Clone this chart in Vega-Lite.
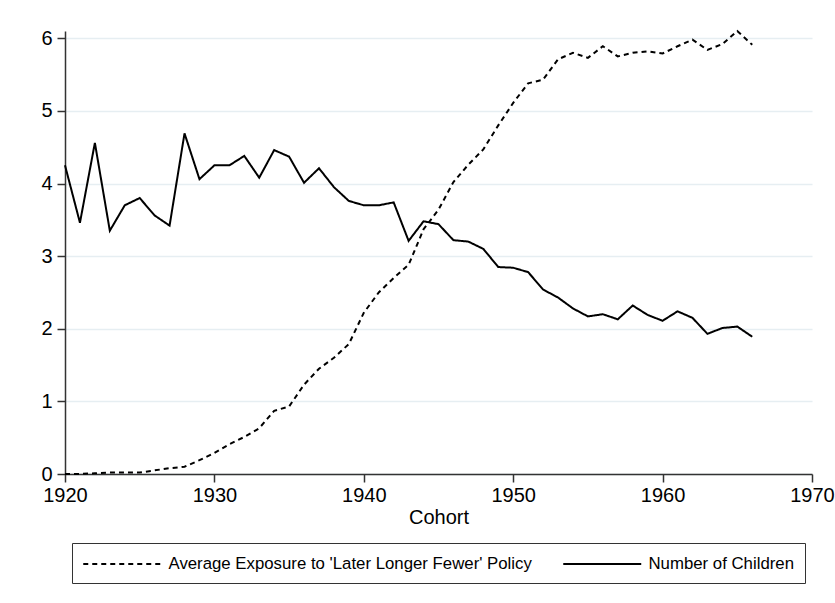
{
  "$schema": "https://vega.github.io/schema/vega-lite/v6.json",
  "autosize": {"type": "none"},
  "width": 747,
  "height": 443,
  "padding": {"left": 65, "top": 31, "right": 23, "bottom": 129},
  "background": "white",
  "config": {
    "view": {"stroke": null},
    "font": "Liberation Sans"
  },
  "data": {
    "values": [
      {"cohort": 1920, "series": "Number of Children", "value": 4.25},
      {"cohort": 1921, "series": "Number of Children", "value": 3.46},
      {"cohort": 1922, "series": "Number of Children", "value": 4.56},
      {"cohort": 1923, "series": "Number of Children", "value": 3.35},
      {"cohort": 1924, "series": "Number of Children", "value": 3.70},
      {"cohort": 1925, "series": "Number of Children", "value": 3.80},
      {"cohort": 1926, "series": "Number of Children", "value": 3.56},
      {"cohort": 1927, "series": "Number of Children", "value": 3.42},
      {"cohort": 1928, "series": "Number of Children", "value": 4.69},
      {"cohort": 1929, "series": "Number of Children", "value": 4.06},
      {"cohort": 1930, "series": "Number of Children", "value": 4.25},
      {"cohort": 1931, "series": "Number of Children", "value": 4.25},
      {"cohort": 1932, "series": "Number of Children", "value": 4.38},
      {"cohort": 1933, "series": "Number of Children", "value": 4.08},
      {"cohort": 1934, "series": "Number of Children", "value": 4.46},
      {"cohort": 1935, "series": "Number of Children", "value": 4.37},
      {"cohort": 1936, "series": "Number of Children", "value": 4.01},
      {"cohort": 1937, "series": "Number of Children", "value": 4.21},
      {"cohort": 1938, "series": "Number of Children", "value": 3.95},
      {"cohort": 1939, "series": "Number of Children", "value": 3.76},
      {"cohort": 1940, "series": "Number of Children", "value": 3.70},
      {"cohort": 1941, "series": "Number of Children", "value": 3.70},
      {"cohort": 1942, "series": "Number of Children", "value": 3.74},
      {"cohort": 1943, "series": "Number of Children", "value": 3.21},
      {"cohort": 1944, "series": "Number of Children", "value": 3.48},
      {"cohort": 1945, "series": "Number of Children", "value": 3.44},
      {"cohort": 1946, "series": "Number of Children", "value": 3.22},
      {"cohort": 1947, "series": "Number of Children", "value": 3.20},
      {"cohort": 1948, "series": "Number of Children", "value": 3.10},
      {"cohort": 1949, "series": "Number of Children", "value": 2.85},
      {"cohort": 1950, "series": "Number of Children", "value": 2.84},
      {"cohort": 1951, "series": "Number of Children", "value": 2.78},
      {"cohort": 1952, "series": "Number of Children", "value": 2.54},
      {"cohort": 1953, "series": "Number of Children", "value": 2.43},
      {"cohort": 1954, "series": "Number of Children", "value": 2.28},
      {"cohort": 1955, "series": "Number of Children", "value": 2.17},
      {"cohort": 1956, "series": "Number of Children", "value": 2.20},
      {"cohort": 1957, "series": "Number of Children", "value": 2.13},
      {"cohort": 1958, "series": "Number of Children", "value": 2.32},
      {"cohort": 1959, "series": "Number of Children", "value": 2.19},
      {"cohort": 1960, "series": "Number of Children", "value": 2.11},
      {"cohort": 1961, "series": "Number of Children", "value": 2.24},
      {"cohort": 1962, "series": "Number of Children", "value": 2.15},
      {"cohort": 1963, "series": "Number of Children", "value": 1.93},
      {"cohort": 1964, "series": "Number of Children", "value": 2.01},
      {"cohort": 1965, "series": "Number of Children", "value": 2.03},
      {"cohort": 1966, "series": "Number of Children", "value": 1.89},
      {"cohort": 1920, "series": "Average Exposure to 'Later Longer Fewer' Policy", "value": 0.0},
      {"cohort": 1921, "series": "Average Exposure to 'Later Longer Fewer' Policy", "value": 0.0},
      {"cohort": 1922, "series": "Average Exposure to 'Later Longer Fewer' Policy", "value": 0.01},
      {"cohort": 1923, "series": "Average Exposure to 'Later Longer Fewer' Policy", "value": 0.02},
      {"cohort": 1924, "series": "Average Exposure to 'Later Longer Fewer' Policy", "value": 0.02},
      {"cohort": 1925, "series": "Average Exposure to 'Later Longer Fewer' Policy", "value": 0.02},
      {"cohort": 1926, "series": "Average Exposure to 'Later Longer Fewer' Policy", "value": 0.05},
      {"cohort": 1927, "series": "Average Exposure to 'Later Longer Fewer' Policy", "value": 0.08},
      {"cohort": 1928, "series": "Average Exposure to 'Later Longer Fewer' Policy", "value": 0.10},
      {"cohort": 1929, "series": "Average Exposure to 'Later Longer Fewer' Policy", "value": 0.19},
      {"cohort": 1930, "series": "Average Exposure to 'Later Longer Fewer' Policy", "value": 0.29},
      {"cohort": 1931, "series": "Average Exposure to 'Later Longer Fewer' Policy", "value": 0.41},
      {"cohort": 1932, "series": "Average Exposure to 'Later Longer Fewer' Policy", "value": 0.51},
      {"cohort": 1933, "series": "Average Exposure to 'Later Longer Fewer' Policy", "value": 0.63},
      {"cohort": 1934, "series": "Average Exposure to 'Later Longer Fewer' Policy", "value": 0.87},
      {"cohort": 1935, "series": "Average Exposure to 'Later Longer Fewer' Policy", "value": 0.93},
      {"cohort": 1936, "series": "Average Exposure to 'Later Longer Fewer' Policy", "value": 1.23},
      {"cohort": 1937, "series": "Average Exposure to 'Later Longer Fewer' Policy", "value": 1.45},
      {"cohort": 1938, "series": "Average Exposure to 'Later Longer Fewer' Policy", "value": 1.60},
      {"cohort": 1939, "series": "Average Exposure to 'Later Longer Fewer' Policy", "value": 1.79},
      {"cohort": 1940, "series": "Average Exposure to 'Later Longer Fewer' Policy", "value": 2.22},
      {"cohort": 1941, "series": "Average Exposure to 'Later Longer Fewer' Policy", "value": 2.50},
      {"cohort": 1942, "series": "Average Exposure to 'Later Longer Fewer' Policy", "value": 2.70},
      {"cohort": 1943, "series": "Average Exposure to 'Later Longer Fewer' Policy", "value": 2.88},
      {"cohort": 1944, "series": "Average Exposure to 'Later Longer Fewer' Policy", "value": 3.37},
      {"cohort": 1945, "series": "Average Exposure to 'Later Longer Fewer' Policy", "value": 3.64},
      {"cohort": 1946, "series": "Average Exposure to 'Later Longer Fewer' Policy", "value": 4.02},
      {"cohort": 1947, "series": "Average Exposure to 'Later Longer Fewer' Policy", "value": 4.26},
      {"cohort": 1948, "series": "Average Exposure to 'Later Longer Fewer' Policy", "value": 4.47},
      {"cohort": 1949, "series": "Average Exposure to 'Later Longer Fewer' Policy", "value": 4.80},
      {"cohort": 1950, "series": "Average Exposure to 'Later Longer Fewer' Policy", "value": 5.11},
      {"cohort": 1951, "series": "Average Exposure to 'Later Longer Fewer' Policy", "value": 5.38},
      {"cohort": 1952, "series": "Average Exposure to 'Later Longer Fewer' Policy", "value": 5.43},
      {"cohort": 1953, "series": "Average Exposure to 'Later Longer Fewer' Policy", "value": 5.71},
      {"cohort": 1954, "series": "Average Exposure to 'Later Longer Fewer' Policy", "value": 5.80},
      {"cohort": 1955, "series": "Average Exposure to 'Later Longer Fewer' Policy", "value": 5.73},
      {"cohort": 1956, "series": "Average Exposure to 'Later Longer Fewer' Policy", "value": 5.89},
      {"cohort": 1957, "series": "Average Exposure to 'Later Longer Fewer' Policy", "value": 5.75},
      {"cohort": 1958, "series": "Average Exposure to 'Later Longer Fewer' Policy", "value": 5.80},
      {"cohort": 1959, "series": "Average Exposure to 'Later Longer Fewer' Policy", "value": 5.82},
      {"cohort": 1960, "series": "Average Exposure to 'Later Longer Fewer' Policy", "value": 5.79},
      {"cohort": 1961, "series": "Average Exposure to 'Later Longer Fewer' Policy", "value": 5.89},
      {"cohort": 1962, "series": "Average Exposure to 'Later Longer Fewer' Policy", "value": 5.98},
      {"cohort": 1963, "series": "Average Exposure to 'Later Longer Fewer' Policy", "value": 5.84},
      {"cohort": 1964, "series": "Average Exposure to 'Later Longer Fewer' Policy", "value": 5.92},
      {"cohort": 1965, "series": "Average Exposure to 'Later Longer Fewer' Policy", "value": 6.10},
      {"cohort": 1966, "series": "Average Exposure to 'Later Longer Fewer' Policy", "value": 5.91}
    ]
  },
  "mark": {"type": "line", "color": "black", "strokeWidth": 2},
  "encoding": {
    "x": {
      "field": "cohort",
      "type": "quantitative",
      "scale": {"domain": [1920, 1970], "nice": false, "zero": false},
      "axis": {
        "values": [1920, 1930, 1940, 1950, 1960, 1970],
        "format": "d",
        "grid": false,
        "title": "Cohort",
        "labelFontSize": 20,
        "labelColor": "black",
        "labelFont": "Liberation Sans",
        "labelPadding": 3,
        "titleFont": "Liberation Sans",
        "titleFontSize": 20,
        "titleFontWeight": "normal",
        "titleColor": "black",
        "titlePadding": 2,
        "labelFlush": false,
        "domainColor": "#333333",
        "domainWidth": 1.5,
        "tickColor": "#333333",
        "tickWidth": 1.5,
        "tickSize": 8
      }
    },
    "y": {
      "field": "value",
      "type": "quantitative",
      "scale": {"domain": [0, 6.1], "nice": false},
      "axis": {
        "values": [0, 1, 2, 3, 4, 5, 6],
        "format": "d",
        "grid": true,
        "gridColor": "#e6eef2",
        "gridWidth": 1.5,
        "title": null,
        "labelFontSize": 20,
        "labelColor": "black",
        "labelFont": "Liberation Sans",
        "labelPadding": 5,
        "domainColor": "#333333",
        "domainWidth": 1.5,
        "tickColor": "#333333",
        "tickWidth": 1.5,
        "tickSize": 8
      }
    },
    "strokeDash": {
      "field": "series",
      "type": "nominal",
      "scale": {
        "domain": ["Average Exposure to 'Later Longer Fewer' Policy", "Number of Children"],
        "range": [[5, 4], [1, 0]]
      },
      "legend": {
        "title": null,
        "orient": "none",
        "legendX": 7,
        "legendY": 512,
        "direction": "horizontal",
        "columns": 2,
        "columnPadding": 27,
        "padding": 10,
        "strokeColor": "#333333",
        "symbolType": "M-1,0H7",
        "symbolSize": 380,
        "symbolStrokeWidth": 2,
        "symbolStrokeColor": "black",
        "labelOffset": 64.5,
        "labelLimit": 500,
        "labelFont": "Liberation Sans",
        "labelFontSize": 16.8,
        "labelColor": "black"
      }
    }
  }
}
